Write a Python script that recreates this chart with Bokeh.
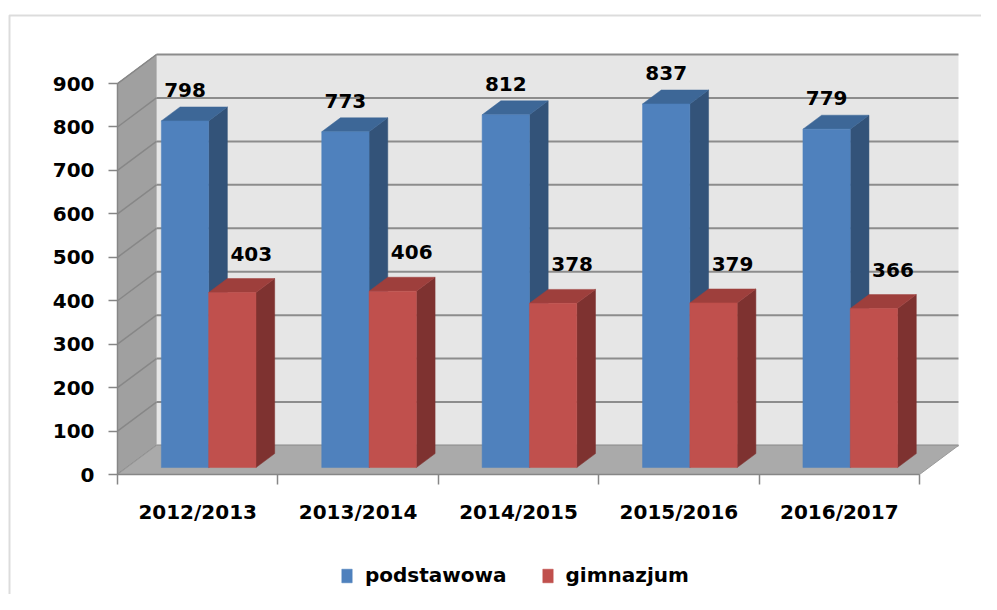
from bokeh.plotting import figure
from bokeh.models import (Range1d, FixedTicker, Legend, LegendItem, BoxAnnotation,
                          ColumnDataSource)
from bokeh.core.properties import value
from bokeh.embed import file_html
from bokeh.resources import INLINE

# ---- data -------------------------------------------------------------
CATEGORIES = ["2012/2013", "2013/2014", "2014/2015", "2015/2016", "2016/2017"]
PODSTAWOWA = [798, 773, 812, 837, 779]
GIMNAZJUM = [403, 406, 378, 379, 366]
SERIES_NAMES = ["podstawowa", "gimnazjum"]
Y_TICKS = [0, 100, 200, 300, 400, 500, 600, 700, 800, 900]

# ---- layout / styling ---------------------------------------------------
W, H = 981, 594
X_PX, X0_PX = 160.4, 117      # px per category, px of category origin
Y_PX, Y0_PX = 0.4344, 474     # px per value unit, px of value 0
FONT = "DejaVu Sans"
FS = "20px"
DX, DY = 0.243, 66.8           # depth direction (x in categories, y in value units)
D0, D1 = 0.24, 0.72            # bar depth span
BAR_START, BAR_W = 0.215, 0.295
Y_MAX = Y_TICKS[-1]
N = len(CATEGORIES)

FRONT = ["#4F81BD", "#C0504D"]
TOP = ["#3D6797", "#9E3F3C"]
SIDE = ["#335379", "#7E3230"]
LABEL_OFF = [(0, -17), (19, -25)]

p = figure(width=W, height=H, output_backend="svg", toolbar_location=None,
           x_range=Range1d(-X0_PX / X_PX, (W - X0_PX) / X_PX),
           y_range=Range1d(-(H - Y0_PX) / Y_PX, Y0_PX / Y_PX),
           min_border=0)
p.background_fill_color = "white"
p.border_fill_color = "white"
p.outline_line_color = None
p.xgrid.visible = False
p.ygrid.visible = False

# outer chart border
border = BoxAnnotation(left=9, right=3000, top=15, bottom=3000,
                       left_units="canvas", right_units="canvas",
                       top_units="canvas", bottom_units="canvas",
                       fill_alpha=0, line_color="#8C8C8C", line_width=2)
p.add_layout(border)

# walls
p.patch([0, 0, DX, DX], [0, Y_MAX, Y_MAX + DY, DY], fill_color="#A0A0A0",
        line_color="#8A8A8A", line_width=1)
p.quad(left=[DX], right=[N + DX], bottom=[DY], top=[Y_MAX + DY],
       fill_color="#E6E6E6", line_color=None)
# back-wall gridlines and side-wall diagonals
p.segment(x0=[DX] * len(Y_TICKS), x1=[N + DX] * len(Y_TICKS),
          y0=[t + DY for t in Y_TICKS], y1=[t + DY for t in Y_TICKS],
          line_color="#8C8C8C", line_width=2)
p.segment(x0=[0] * len(Y_TICKS), x1=[DX] * len(Y_TICKS),
          y0=Y_TICKS, y1=[t + DY for t in Y_TICKS],
          line_color="#878787", line_width=1.5)
# floor
p.patch([0, N, N + DX, DX], [0, 0, DY, DY], fill_color="#AAAAAA",
        line_color="#9A9A9A", line_width=1)

# bars
ddx, ddy = (D1 - D0) * DX, (D1 - D0) * DY
fronts = []
for s, vals in enumerate([PODSTAWOWA, GIMNAZJUM]):
    xl = [i + BAR_START + s * BAR_W + D0 * DX for i in range(N)]
    xr = [x + BAR_W for x in xl]
    bot = [D0 * DY] * N
    top = [v + D0 * DY for v in vals]
    side_xs = [[r, r + ddx, r + ddx, r] for r in xr]
    side_ys = [[b, b + ddy, t + ddy, t] for b, t in zip(bot, top)]
    top_xs = [[l, r, r + ddx, l + ddx] for l, r in zip(xl, xr)]
    top_ys = [[t, t, t + ddy, t + ddy] for t in top]
    p.patches(side_xs, side_ys, fill_color=SIDE[s], line_color=SIDE[s], line_width=0.5)
    p.patches(top_xs, top_ys, fill_color=TOP[s], line_color=TOP[s], line_width=0.5)
    fr = p.quad(left=xl, right=xr, bottom=bot, top=top, fill_color=FRONT[s],
                line_color=FRONT[s], line_width=0.5)
    fronts.append(fr)
    src = ColumnDataSource(dict(x=[(l + r) / 2 for l, r in zip(xl, xr)],
                                y=[v + D1 * DY for v in vals],
                                t=[str(v) for v in vals]))
    p.text(x="x", y="y", text="t", source=src, text_align="center",
           text_baseline="alphabetic", x_offset=LABEL_OFF[s][0],
           y_offset=LABEL_OFF[s][1], text_font=value(FONT), text_font_size=FS,
           text_font_style="bold", text_color="#000000")

# axes (placed at data zero so they need no side panel)
ax = p.xaxis[0]
ax.fixed_location = 0
ax.ticker = FixedTicker(ticks=[i + 0.5 for i in range(N)],
                        minor_ticks=list(range(N + 1)))
ax.major_label_overrides = {i + 0.5: c for i, c in enumerate(CATEGORIES)}
ax.bounds = (0, N)
ax.axis_line_color = "#868686"
ax.axis_line_width = 1.5
ax.major_tick_line_color = None
ax.major_tick_out = 0
ax.major_tick_in = 0
ax.minor_tick_line_color = "#868686"
ax.minor_tick_line_width = 1.5
ax.minor_tick_out = 10
ax.minor_tick_in = 0
ax.major_label_standoff = 15
ax.major_label_text_font = FONT
ax.major_label_text_font_size = FS
ax.major_label_text_font_style = "bold"
ax.major_label_text_color = "#000000"

ay = p.yaxis[0]
ay.fixed_location = 0
ay.ticker = FixedTicker(ticks=Y_TICKS, minor_ticks=[])
ay.bounds = (0, Y_MAX)
ay.axis_line_color = "#868686"
ay.axis_line_width = 1.5
ay.major_tick_line_color = "#868686"
ay.major_tick_line_width = 1.5
ay.major_tick_out = 9
ay.major_tick_in = 0
ay.minor_tick_line_color = None
ay.major_label_standoff = 14
ay.major_label_text_font = FONT
ay.major_label_text_font_size = FS
ay.major_label_text_font_style = "bold"
ay.major_label_text_color = "#000000"

legend = Legend(items=[LegendItem(label=SERIES_NAMES[0], renderers=[fronts[0]]),
                       LegendItem(label=SERIES_NAMES[1], renderers=[fronts[1]])],
                orientation="horizontal", location=(340, 7),
                label_text_font=FONT, label_text_font_size=FS,
                label_text_font_style="bold",
                label_text_color="#000000", glyph_width=13, glyph_height=17,
                spacing=34, label_standoff=12, border_line_color=None,
                background_fill_alpha=0, padding=0, margin=0)
p.add_layout(legend, "center")

open("out.html", "w").write(file_html(p, INLINE))
